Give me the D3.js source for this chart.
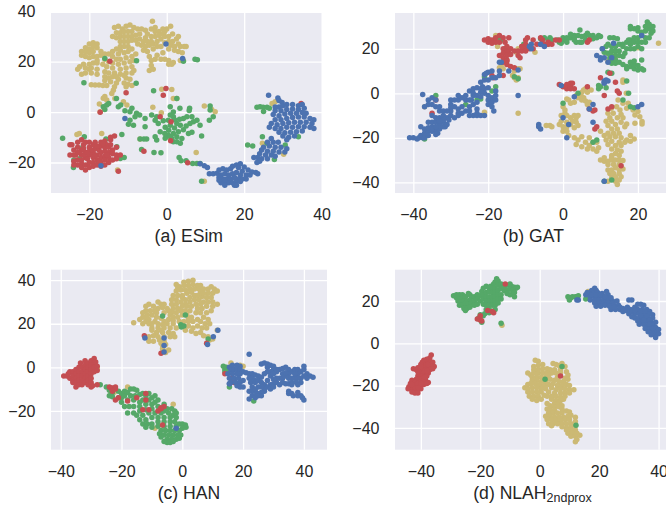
<!DOCTYPE html>
<html><head><meta charset="utf-8">
<script src="https://cdn.jsdelivr.net/npm/d3@7"></script>
<style>html,body{margin:0;padding:0;background:#fff;overflow:hidden}svg{display:block}</style>
</head><body><svg id="c" width="666" height="506"></svg>
<script>
// ---- (a) ESim
const esimYellow=[[-13.5,33.5],[-12.5,34],[-11.5,33],[-10.5,34],[-9.5,34.5],[-8.5,33.5],[-13,31.5],[-12,31.5],[-11,32],[-10,32],[-9,32],[-7.5,33],[-6.5,33],[-14,30],[-13,29.5],[-12,30],[-11,30],[-10,30],[-9,30],[-8,30.5],[-7,31],[-12,28],[-11,28],[-10,28],[-9,28.5],[-8,28.5],[-7,29],[-5.5,32.5],[-5.5,29.5],[-5,31],[-4,33],[-4,30],[-3.7,36],[-3,33.5],[-6,28],[-5,28],[-4,28],[-3,30],[-2,32],[-1,31],[0,33],[-1,33],[1,34],[-6.5,26.5],[-5.5,26],[-4.5,26.5],[-3.5,27],[-2.5,28],[-1.5,29],[-0.5,30],[0.5,30],[1.5,31],[-6,24.5],[-5,24],[-3.5,25],[-2.5,26],[-1.5,26],[-0.5,27.5],[0.5,28],[1.5,28],[2.5,29],[3,27],[1,26.5],[2,26],[3.5,26],[4.5,26],[5,26],[0.5,25],[2,24.5],[3,24],[4,23.5],[-4.5,22],[-4,20.5],[-3,21],[-2.5,22.5],[-1.5,21],[-0.5,21],[0.5,20.5],[-1,23.5],[-4,18.5],[-4.5,16.5],[-3.5,17],[0.5,19],[1.3,19],[1.7,19.7],[3.5,20.5],[-20,27],[-19,27.5],[-18,27],[-21,25.5],[-20,25],[-19,26],[-18,25.5],[-22,24],[-21,24],[-20,23.5],[-19,24],[-17,24],[-22,22.5],[-21,22],[-20,21.5],[-19,22],[-18,22],[-17,22.5],[-16,23],[-15,23],[-14,24],[-13,25],[-12,26],[-11,26],[-10,26],[-14,22],[-12.5,23],[-11,23.5],[-10,24],[-9,25],[-13,21],[-12,21],[-10.5,21.5],[-9,22],[-15,20],[-14,19.5],[-12.5,19],[-11,19.5],[-9.5,20],[-8.5,20.5],[-22.5,18],[-21.5,19],[-20,19],[-19,19.5],[-18,19.5],[-16.5,19],[-23,17],[-21,17.5],[-19.5,17.5],[-18,17],[-15.5,18],[-14,17.5],[-12,17],[-10.5,17.5],[-9,18],[-22,15],[-21,15.5],[-19.5,15.5],[-18,15],[-16,16],[-15,15.5],[-13.5,15.5],[-12,15],[-10.5,15.5],[-9,15.5],[-8.5,16.5],[-16,14],[-15,13.5],[-14,14],[-12.5,13],[-10.5,13.5],[-9.5,13],[-16,12.5],[-14.5,12],[-13,11.5],[-11,11.5],[-10,11],[-19.5,10.8],[-18.5,10.7],[-17.5,10.7],[-16.5,10.5],[-15.5,10.5],[-13.5,10],[-10.5,10],[-9,10.5],[-16,6.2],[-15.5,4.8],[-16.4,5.5],[-17.4,3.2],[-13.8,8.7],[-14.2,7.4],[-13.4,5.4],[-11.2,4.1],[-10.3,2.8],[-17.2,.1],[-6.9,-10.7],[-1.3,9.1],[1.3,9],[1.7,5.4],[2.6,5.4],[-3.6,1.9],[-1.4,-.3],[7.6,-16],[9.7,2.4],[11.6,1],[12.5,.1],[-22.6,-8.5],[-16.8,-8.5],[-12.7,-23],[9.7,-27.4],[27.2,3.4],[28,4.1],[24.7,-12.4],[30.2,-16.7],[4.3,20.5],[-23.2,-8.9],[-8,23],[-7.5,27],[-12,24.5],[-16,21],[-11,14.5],[-13,14],[-18,20.5],[-20,17],[-2,30.5],[-.5,32],[3,30],[-3,32]];
const esimGreen=[[-3.4,8.5],[2.6,5.4],[.9,2.1],[3.4,1.5],[5.9,1.5],[5.8,.6],[11.2,2.4],[11.2,.8],[12,-1.9],[11,-3.2],[7.3,21],[7.9,20.8],[4.3,20.2],[-7.8,20.4],[-7.9,11.4],[-21.4,11.6],[-16,21.3],[-13,5.4],[-16.4,2.1],[-15.5,2.8],[-15,3.4],[-16,1],[-12.5,2.1],[-11.9,2.8],[-10.8,.5],[-9.5,.1],[-9,1.5],[-7.8,-.5],[-7,-1.2],[-8.2,-1.9],[-9.5,-3.2],[-9.9,-4.8],[-8.6,-5.2],[-5.6,-2.5],[-5.6,-5.8],[-3.9,-1.2],[-2.6,-1.9],[-3,-3.2],[-2.2,-4.5],[-.9,-3.4],[-1.7,-7.8],[-2.6,-11.1],[-6.9,-10.7],[-5.9,-10.7],[-5.2,-10.7],[-6.5,-14.8],[-3.3,-16],[-1.5,-16.1],[-.4,-10.4],[-3,-9.8],[9,-9.5],[8.6,-5.2],[5.6,-8.5],[6.5,-8],[7.8,-3.2],[6.5,-1.9],[5.2,-1.9],[6.9,-3.8],[6,-4.5],[4.3,-2.5],[3.5,-5.2],[1.7,-1.9],[1.7,0],[.9,-1.2],[.4,-3.2],[.9,-5.2],[2.6,-4.5],[4.3,-7],[3,-7.8],[1.7,-8.5],[.4,-9.2],[1.3,-10.5],[2.6,-9.8],[3.9,-10.5],[2.6,-11.8],[3.5,-12.4],[1.7,-11.8],[.9,-9.8],[-.4,-6],[2,-3],[3.3,-2.8],[5,-5.5],[2,-6.3],[.5,-7.2],[-.5,-8.5],[3.2,-18],[3.7,-19.3],[5,-19.3],[6.7,-20.4],[7.8,-20.4],[8.6,-20.4],[-26.9,-10.4],[-24,-19],[-24.1,-22],[-22.4,-18.4],[-21.7,-14],[-17.7,-19.4],[-12.9,-13.8],[-11.6,-8.9],[-15.7,-10.7],[-21.3,-9.8],[-12,-18.4],[-11,-18],[20.9,-13.1],[22.2,-13.5],[23.3,1.9],[24.1,2.1],[24.9,1.9],[25,.2],[25.9,1.9],[26.5,1.5],[24.7,-9.8],[25.9,-12.4],[30.6,-13.1],[27.8,-18.8],[34,-9.8],[9,-27.4]];
const esimRed=[[-25,-13],[-24.5,-13],[-25,-17],[-24,-15],[-23,-12],[-23,-14],[-23.5,-17],[-23,-19],[-23,-21],[-24,-21],[-22,-11],[-22,-15],[-22,-17],[-22,-20.5],[-22,-22],[-21.5,-13],[-21,-12],[-21,-16],[-21,-18],[-21,-21],[-21,-23],[-20,-14],[-20,-15.5],[-20,-17],[-20,-20],[-20,-22],[-19,-13],[-19,-16],[-19,-18],[-19,-20],[-18.5,-12],[-18.5,-14.5],[-18,-17],[-18,-19],[-18,-21],[-17.5,-15],[-17,-12],[-17,-13.5],[-17,-16],[-17,-18],[-17,-20],[-16,-11.5],[-16,-14],[-16,-15.5],[-16,-17.5],[-16,-19],[-16,-21],[-15.5,-13],[-15,-16],[-15,-18],[-15,-20],[-14.5,-11],[-14,-15],[-14,-16.5],[-14,-19],[-13.5,-9.5],[-13,-14],[-13,-17],[-13,-18.5],[-12,-17],[-12.5,-23.5],[-14.5,-10],[-14.7,20.2],[-10.5,7.7],[-17.2,-.1],[-.2,9.4],[-.9,6.7],[-1.7,-1.9],[1.1,-3.8],[1,-11.4],[-5.9,-15.5],[5.4,-20.1],[34.7,3.4],[-24,-17],[-22.5,-16],[-21.5,-14.5],[-20.5,-18.5],[-19.5,-15],[-18.5,-17.5],[-17.5,-19.5],[-20,-12],[-15,-14],[-14.5,-13],[-16.5,-12.5],[-22,-19],[-23,-16],[-18,-13.5],[-19,-21.5],[-17,-21.5],[-24,-19.5],[-15.5,-17],[-20.5,-16]];
const esimBlue=[[26.3,6.7],[28.7,5.6],[29,4.6],[29.8,3.8],[28,2],[29,2],[30,2.5],[31,3],[32.5,3],[34,2.5],[35,3],[28,.5],[29.5,.5],[31,1],[32.5,1.2],[34,1],[35.5,1.5],[27.5,-1],[29,-1.5],[30.5,-.8],[32,-.5],[33.5,-.5],[35,-.2],[36,-.5],[28,-3],[29.5,-3],[31,-2.5],[32.5,-2.2],[34,-2],[35.5,-2],[37,-2.5],[38,-3],[27,-4.5],[28.5,-5],[30,-4.5],[31.5,-4.2],[33,-4],[34.5,-4],[36,-4],[37.5,-4.5],[26.5,-6],[28,-6.5],[29.5,-6.5],[31,-6],[32.5,-6],[34,-5.8],[35.5,-5.8],[37,-6],[38,-6.5],[29,-8],[30.5,-8.2],[32,-8],[33.5,-7.8],[35,-7.5],[30,-9.5],[31.5,-10],[33,-9.5],[31,-11],[27,-10.5],[26,-12],[27.5,-12],[28.8,-12],[25,-14],[26.5,-13.5],[28,-14],[29.5,-14],[31,-14.5],[24.5,-15],[26,-15.5],[27.5,-15.5],[29,-15.8],[30.5,-15.8],[24,-16.5],[25.5,-17],[27,-17],[28,-17.5],[23.5,-18],[24.5,-18.5],[26,-18.5],[24,-19.5],[22.5,-18],[23.3,-20],[9.7,-21.3],[8.6,-20.5],[10.5,-22],[11,-24.5],[12,-24.5],[13,-24.3],[13.5,-23],[14.5,-22.5],[15.5,-23],[16.5,-22.5],[17,-21.5],[18,-21],[19,-20.5],[18.5,-22],[20,-21.8],[21,-23],[19.5,-23.5],[22,-23.8],[23,-24],[23.5,-24.5],[14,-25],[15,-24.5],[16,-25],[17,-24.5],[18,-24],[19,-25],[20.5,-25],[21.5,-25],[13.5,-26],[14.5,-26.5],[15.5,-26.5],[16.5,-26.5],[17.5,-26],[18.5,-26.5],[19.5,-26.5],[20.5,-26.5],[14,-28],[15,-28],[16,-28],[17,-28],[18,-27.5],[19,-27.5],[15,-29],[17.5,-29],[18,-29],[13.5,-27],[15,-27],[-10.8,-2.5],[4.1,21.3],[-17,-21.3],[-.2,27]];
// ---- (b) GAT
const gatYellow=[[16.9,0],[14.7,-3],[16,-4.5],[17.4,-4.5],[14.3,-6],[12.9,-6.7],[12,-9],[13.4,-9],[15.2,-7.5],[17,-6.7],[18.7,-7.5],[20,-8.2],[19.2,-9.7],[20.5,-10.5],[21.1,-12.7],[21.1,-13.8],[19.2,-13.5],[17,-13.8],[15.5,-9.5],[16,-11],[14.5,-11],[12.5,-11],[11.5,-12.5],[13,-12.5],[14,-14],[15.5,-13],[12,-14.5],[13,-16],[14.5,-16],[15,-18],[13.5,-18],[12,-18],[16.5,-15],[10,-17],[11,-19],[12.5,-19.5],[14,-19.5],[15.5,-20],[17,-21],[19,-20.5],[18,-19],[11.5,-21],[13,-21.5],[15,-22],[16.5,-22],[18,-21.5],[12,-23],[14,-23.5],[15.5,-23.5],[13,-25],[14.5,-25.5],[15.5,-26],[14,-27],[15,-28],[13,-28],[10,-30],[11,-30.5],[12,-30.5],[13,-30],[14,-30],[15,-30],[16,-30.2],[12,-32],[13.5,-32],[15,-32],[14,-33.5],[13,-34.5],[12,-34.5],[15,-34.5],[16,-34],[12.5,-36],[13.5,-36],[15,-36],[14,-37.5],[15.5,-37.5],[13,-38],[14,-39.5],[15,-39],[14.5,-41],[12,-39.5],[11,-29],[13,-29],[5,-19.5],[7,-20],[6,-22],[4,-21],[3.5,-23],[5,-24],[7,-23.5],[8,-22],[9,-22],[6.5,-25],[8,-25],[9.5,-24.5],[9,-26],[1.5,-19],[3,-20],[0,-6],[.5,-9],[-.5,-10],[1,-10],[2,-11],[3,-10],[2.5,-12.5],[3.5,-13],[1,-13],[-.5,-12.5],[-1,-14],[0,-15],[1,-15],[2,-14],[4,-14.5],[3,-15.5],[0,-17],[1,-17],[3.5,-11],[4,-10],[-4.5,-14.5],[-3.5,-14.5],[-3,-15],[.5,-7.5],[1.5,-3],[2,-4.5],[3,-4],[1,-2.5],[3.5,-1],[4,-2],[5,-1.5],[5,-3],[6,-3.5],[7,-4],[4.5,-.5],[5,.5],[5.5,1.5],[6,2],[6.5,.5],[7.5,1.5],[5.5,-2],[6.5,-5],[-18,26],[-17.5,23],[-17.5,21],[-16,11],[-17,11.5],[-16.5,12],[-13.5,8],[-13,7],[-12.5,6],[-12,11],[-11.5,11],[-13,10],[-12,7],[-11,21],[-12,20],[-12.5,18.5],[-7.5,18.5],[11.5,18],[12,14.5],[13,14],[14,16],[25.5,22.5],[20,20.5],[16,5],[16,6],[-12,-9],[-21,-8.5],[-37,-6]];
const gatGreen=[[-1,23],[0,24],[0,25],[1,25],[1,24],[1,23],[2,25],[3,26],[2,26.5],[3,25],[3.5,23],[3,24],[4,26],[5,25.5],[4.5,23],[5,23],[6,24],[6,26],[6.5,27],[7,26],[8,26],[8,24.5],[9,25],[9.5,26],[10,25.5],[-1.5,24],[-3,24],[-4,22],[-4,24],[-3.5,25],[-6,24.5],[-5,25],[4.5,28.5],[-.5,22.5],[12.5,25],[13.5,25],[14.5,24.5],[12,22],[13,21],[11.5,21],[10.5,20],[11,18.5],[12,18],[13,19],[14,21],[15,22],[16,22],[17,23],[18,24],[19,25],[20,25],[21,26],[22,25],[23,25],[23.5,27],[24,28],[23,29],[22,30],[22.5,32],[23,31],[24,30],[22,28],[21,27.5],[20,29.5],[19,29],[18,29],[18,30],[20,28],[17.5,24],[16,21],[17,20],[18,22],[19,23],[20,23],[21,23],[22,23],[20,21],[21,20],[19,20],[18,20],[16.5,18],[15,19],[14,19],[13,17],[14,17],[15,17],[16,16.5],[12.5,16],[13,15],[14,15],[13,13.5],[14,13.5],[15,14],[16,13],[17,12],[18,12],[19,11],[17,11],[19,13],[20,12.5],[18,14],[19,14.5],[20,10.5],[21,11],[21.5,10.5],[21,15],[12,9.5],[13,9],[9.5,2],[10,3],[11.5,2.5],[17,5.5],[-21,7.5],[-18,3],[-19,1],[-22,-2.5],[-23,-3],[-34,-1],[-15.5,20],[-16.5,24],[-17,25],[-10.5,22],[-13,7.5],[-12,6.5],[8,-22],[9,-21],[0,-4.5],[4,0],[16,-3],[18,-6],[19,-6.5],[11,-39.5],[13,-39],[-37,-20.5],[17.5,0],[9.5,3.5],[-26,-5]];
const gatRed=[[-21,24],[-20,24.5],[-20,23],[-19,24],[-19,22.5],[-18,23],[-18,25],[-17,23],[-17,26],[-16,25],[-14.5,25],[-15.5,23],[-16,20],[-15,19],[-15,21],[-14.5,19],[-14,20],[-16,18],[-15,17],[-14,17.5],[-16,16],[-15,15],[-17,17],[-16,14],[-15,14.5],[-15,13],[-14,12],[-13,11.5],[-12,17],[-11.5,16],[-13,19],[-12,19],[-11,19],[-10,20],[-11,21],[-10,22],[-10,24],[-9.5,25],[-10,19],[-9,20],[-8,20],[-7,22],[-6,22],[-5.5,24],[-5,22],[-4,22],[-4,23],[-3,22],[-1,24],[-8,24],[-6,25],[-19,8],[-18.5,7],[6.5,23],[7,24],[-35,-9],[-34,-3],[-2,24],[-1,4],[0,3],[1,2],[1,4],[2,4.5],[2,3],[2.5,4.5],[3,2],[2,2],[6.5,3],[11,-1],[10,7],[12.5,9],[14,5],[14.5,1],[15,0],[7,-7],[8.5,-7.5],[8,-8],[12,-7],[15.5,-32.5],[9,-15],[8.5,-16],[-16,8],[13,-6],[-11,21]];
const gatBlue=[[-41,-20],[-40,-20],[-39,-20.5],[-38.5,-20],[-38,-19],[-37.5,-20],[-37,-18],[-37,-20],[-36.5,-18.5],[-38,-15],[-37,-16],[-36,-17],[-35,-15],[-36,-13],[-35,-13],[-34,-13],[-35,-17],[-34,-17],[-33.5,-18],[-33,-16],[-33,-14],[-32,-15],[-32,-13],[-31.5,-15],[-35,-10],[-34,-11],[-33,-11],[-32,-10],[-31,-11],[-30.5,-12],[-30,-10],[-30,-8],[-31,-8],[-32,-8],[-33,-8],[-34,-6],[-35,-5],[-36,-5],[-36,-3],[-35,-2],[-34,-3],[-37,-6],[-37.5,-.5],[-33,-6],[-30,-5],[-30,-3],[-29,-3],[-28,-1],[-28,-3],[-29,-6],[-28,-7],[-27,-6],[-28,-9],[-26,-8],[-27,-9],[-26,-3],[-25,-3],[-26,-1],[-24.5,-3],[-24,-5],[-25,-6],[-25,-8],[-25,-10],[-24,-10],[-23,-9],[-23,-10],[-22,-10],[-21,-10],[-23,-7],[-23,-4],[-24,-1],[-25,1],[-24,2],[-23,2.5],[-22,2],[-21,2],[-20,2.5],[-21,0],[-22,.5],[-23,-1],[-20,-1],[-19,-2],[-20,-3],[-20,-5],[-19,-6],[-18.5,-8],[-19,-4],[-18,-3],[-18,-1],[-18,1],[-22,5],[-21,6],[-20,6],[-19,7],[-18,7],[-17,8],[-21.5,3],[-20,9.5],[-19,10],[-20.5,9],[-21,8.5],[-14.5,10],[-12,10.5],[-17,10],[-17,14],[-16.5,14],[-34,-18.5],[-36,-19],[-35,-16],[-32,-12],[-29,-11],[-28,-10],[-8.5,20],[-8.5,22],[-9,21],[-5,21],[-6,22],[9,17],[10,16],[10,15],[11,16],[10.5,20],[12,14],[13,16],[11,5],[11.5,6],[11,5.5],[12,5.5],[11,4.5],[-0.5,3.5],[1,-20],[-6.5,-14],[-6.5,-15],[-6,-16],[0,-11],[1.5,-14],[3,-1.5],[8,-13],[8,-5],[7,-7],[21,-5],[20,-6],[11,-39.5],[13.5,22.5],[21,26],[-12,-1],[-33,-12.5],[-31,-14],[-34,-15],[-36,-15.5],[-30,-6.5],[-27,-2],[-24,0],[-22,-1.5]];
// ---- (c) HAN
const hanYellow=[[.5,39],[2,39.5],[3.5,40],[.5,37.5],[2,37.5],[3.5,38],[5,37.5],[6,37.5],[-1,37],[-2,35],[-.5,35.5],[1,35.5],[2.5,36],[4,36],[5.5,36],[7,36],[8.5,36],[9.5,37],[10.5,36],[11,35],[-3,33],[-1.5,33],[0,33],[1.5,34],[6,34.5],[8.5,34],[10,34],[11.5,35],[-3.5,31],[-2,31],[0,32],[5,33],[6.5,32.5],[8,32],[9.5,32],[-3.5,29],[-2,29],[-.5,30],[1,29],[2.5,30],[4,31],[5.5,31],[7,30],[8.5,30],[10,30],[-3,27],[-1.5,27],[0,28],[1.5,28],[3,28],[4.5,29],[6,29],[-3.5,25],[-2,25],[-.5,26],[1,26],[2.5,26],[6.5,27],[8,28],[10,28],[11.5,29],[-6,29],[-7,29],[-8,30],[-6.5,27.5],[-8,27],[-9.5,28],[-11,29],[-12,28],[-10.5,26],[-12,26],[-13,25],[-8.5,25],[-6,25],[-4.5,26],[-4,24],[-7,22.5],[-8.5,23],[-10,24],[-11.5,24],[-13,23],[-14,22],[-11,22],[-9,21],[-6,21],[-4.5,22],[-3,23],[-1.5,23],[0,24],[1.5,24],[3,23],[4.5,25],[6,25],[8,25],[9.5,26],[5,27],[-16,20.5],[-13,20],[-12,21],[-11,20],[-8,20],[-6.5,19.5],[-5,20],[-3,20],[-1,21],[.5,21],[2,21],[3.5,21],[5,22],[7,23],[8.5,22],[6,21],[7.5,20],[9,20],[-10,18],[-8,18],[-6,18],[-4,18],[-2,18],[0,19],[2,19],[3.5,18],[5,19],[6.5,18],[8,18],[-10,17],[-8.5,16],[-6.5,16],[-4.5,16],[-3,15.5],[1,17],[3,16.5],[4.5,15.5],[6,16],[-11,14],[-9.5,14.5],[-8,14],[-6,14],[-4,14],[-2.5,14],[7,14.5],[8.5,14],[9,12.5],[10,13],[-11,12],[-9.5,12],[-7.5,12.5],[-6,12],[-7,11],[-6.5,10],[-5.5,10.5],[-6.5,8.5],[-4.5,8],[-6,7.5],[-5.5,6.8],[11.5,17],[-28,-.5],[-22,-11],[-22.5,-11.5],[-18,-9],[-3,-17],[-9,-28],[16,2],[19,1],[20,.5],[-23.5,-12],[-6,10.5],[-2,38],[-1.5,36.5],[3,34.5],[4,33],[2.5,32],[7,34],[1,31],[-9,26],[-5,27],[-3,21.5],[2,22.5],[-7,17],[-10,20],[-12,23]];
const hanGreen=[[-27,-8],[-25,-9],[-24,-10.5],[-23,-11.5],[-24,-13],[-23,-13.5],[-21,-11],[-20,-12],[-19,-11],[-18,-11.5],[-17,-10],[-16,-10],[-15,-10.5],[-21,-14],[-20,-14],[-19,-13],[-17,-13],[-15.5,-13],[-14,-12.5],[-13,-12],[-12,-13],[-11,-12],[-20,-16],[-18,-15],[-16,-15],[-14,-16],[-13,-15],[-11,-15],[-10,-14],[-9,-13],[-19,-18],[-17.5,-18],[-16,-18],[-14,-18],[-12,-17],[-10,-17],[-9,-16],[-8,-15],[-6,-17],[-5,-19],[-18,-21],[-16,-21],[-14,-20],[-12,-19.5],[-10,-19],[-8,-18],[-6,-20],[-3.5,-19],[-2.5,-20],[-15,-22],[-13,-22],[-11,-21],[-9,-21],[-7,-21],[-4.5,-21],[-3,-22],[-2,-21],[-14,-24],[-12,-24],[-10,-23],[-8,-23],[-6,-23],[-4,-23],[-2,-23],[-13,-26],[-11.5,-26],[-10,-26],[-8,-25],[-6,-25],[-4,-25],[-2.5,-25],[-12,-27.5],[-10,-27.5],[-8,-27],[-6,-27],[-4,-27],[-2,-27],[-1,-26],[0,-26],[1,-26.5],[1.2,-27.5],[0,-28],[-7,-29],[-5.5,-29],[-4,-29],[-2.5,-29],[-1,-29],[-7.5,-30.5],[-6,-31],[-4.5,-31],[-3,-31],[-1.5,-31],[-.5,-31],[-7,-32],[-5,-33],[-3.5,-33],[-2,-33],[-1,-32.5],[-5,-34.5],[-4,-34.5],[-3,-34],[-6,-34],[1,24],[-6.5,23.5],[-.5,19.5],[-.3,18.5],[.5,19],[8.5,13],[13.5,.5],[14,-1],[14,-2],[14.5,0],[15,-1.5],[15.5,-9],[23.5,-15.5]];
const hanRed=[[-39,-4],[-38,-4],[-37.5,-3],[-37,-2],[-37,-5],[-36,-2],[-36,-4],[-36,-6],[-36,-7],[-35,-1],[-35,-3],[-35,-5],[-35,-7],[-35,-9],[-34,0],[-34,-2],[-34,-4],[-34,-6],[-34,-8],[-33.5,2],[-33,0],[-33,-2],[-33,-4],[-33,-6],[-33,-8],[-32,3],[-32,1],[-32,-1],[-32,-3],[-32,-5],[-32,-7],[-31,2],[-31,0],[-31,-2],[-31,-4],[-31,-6],[-31,-8],[-30,3],[-30,1],[-30,-1],[-30,-3],[-30,-5],[-30,-7],[-29,4],[-29,2],[-29,0],[-29,-2],[-29.5,-8.5],[-28.5,2.5],[-28,.5],[-28,-1.5],[-30,-9],[-28,-8],[-24,-9],[-23.5,-9.5],[-23,-9.5],[-22,-9],[-22,-10],[-23,-11],[-21,-14],[-22,-15],[-18,-15.5],[-15,-14],[-12,-12],[-12,-15],[-11,-19.5],[-13,-19.5],[-8,-20],[-7,-19],[-6,-18],[-7,-18.5],[-6.5,-26.5],[-12.5,14.5],[-7,6.5],[8,11],[17,-6],[16,-5],[14,-3],[18,-7.5],[17,-7]];
const hanBlue=[[-12.3,13.5],[-6,13.5],[-6,10],[-6,7],[11.7,17],[10.2,14],[8.3,10.5],[22,6],[15.5,0],[16.5,1],[18,1],[19,.5],[16,-1],[17,-1],[18,-1],[19,-1],[20,-2],[15,-3],[16.5,-3],[18,-3],[19,-3],[15.5,-5],[17,-5],[18.5,-5],[16,-7],[17.5,-7],[19,-7],[20,-6],[18,-8.5],[19,-9],[20,-9],[15.5,-7.5],[21,-2.5],[22,-3],[23,-3],[24,-3.5],[25,-4],[22,-5],[23,-5],[24,-6],[22.5,-7],[24,-7],[25,-6],[26,-7],[27,-8],[29,-8],[30,-7.5],[31,-7],[32,-8],[33,-7],[34,-7.5],[35,-7.5],[36,-7],[28,-9],[29,-10],[27,-10],[26,-9],[30,-9],[25,-9],[27,-11],[26,-11.5],[24,-11],[23,-11],[22,-11],[25,-12],[23,-13],[24,-13],[25,-13],[26,-13],[24,-14],[22,-14.5],[26,1.5],[27,2],[28,1.5],[28,0],[29,1],[30,.5],[30,-1],[31,-1],[31,-2],[32,-1],[33,-.5],[34,0],[29,-2],[35,-1],[35,-3],[36,-2],[37,-1],[38,-1],[38,-3],[39,-2],[40,-1],[40,.5],[41,-3],[42,-4],[43,-4.5],[41,-5],[40,-4],[39,-5],[38,-5],[37,-5],[36,-5],[35,-5],[34,-4],[33,-5],[32,-5],[31,-5],[39,-7],[37.5,-7],[35,-11],[35,-12],[36,-12],[36.5,-13],[38,-13],[39,-13],[39.5,-14],[40,-15],[38,-11.5],[-2,-28],[15.5,-7.5],[28,-2],[27,-3],[29,-4],[30,-3],[33,-3],[34,-2.5],[37,-3],[36,-8],[38,-8],[23,-9],[24,-10],[26,-4.5],[28,-6],[30,-5.5]];
// ---- (d) NLAH
const nlahYellow=[[-1.5,-8],[-.5,-8.5],[-.5,-10.5],[-2,-11],[-2,-12.5],[-.5,-12.5],[1,-10],[1,-12],[2.5,-12],[4.5,-9.5],[5.5,-10],[6.5,-10.5],[3.5,-12.5],[5,-12.5],[7,-12.5],[8.5,-11],[-2,-14],[-.5,-14],[1,-14],[2.5,-14],[4,-14],[5.5,-14],[7,-14],[9,-13.5],[-4,-14],[-3,-15],[-2.5,-16],[-1,-16],[.5,-16],[2,-16],[9.5,-15],[8.5,-16.5],[-2.5,-17.5],[-1,-17.5],[.5,-18],[2,-18],[3.5,-17],[9.5,-17],[8,-18],[6.5,-18],[5,-17.5],[-4,-19.5],[-3,-19],[-1.5,-19],[0,-19.5],[1.5,-20],[3,-19.5],[4.5,-19],[6,-20],[7.5,-20],[9,-19.5],[10,-20],[-5,-21],[-4,-21.5],[-2.5,-21],[-1,-21],[.5,-21.5],[2,-21.5],[4,-21],[5.5,-22],[7,-21.5],[8.5,-21.5],[10,-22],[11.5,-22],[-4,-23],[-2.5,-23],[-1,-23],[.5,-23],[3,-23],[5,-23.5],[7,-23.5],[8.5,-23.5],[10,-23.5],[-3.5,-25],[-2,-25],[-.5,-25],[4,-25],[5.5,-25],[7,-25.5],[8.5,-25],[-2.5,-26.5],[-1,-27],[.5,-26.5],[4,-26.5],[5.5,-27],[7,-27],[8,-26.5],[5,-28.5],[6.5,-28.5],[5,-30],[6.5,-30],[5,-31.5],[2.5,-31],[3.5,-31.5],[3,-33],[4.5,-33],[6,-33],[7.5,-33],[9,-32],[10,-32.5],[2,-34.5],[3.5,-34.5],[5,-35],[6.5,-35],[8,-35],[9.5,-34.5],[10.5,-34],[2.5,-36],[4,-36],[5.5,-36.5],[7,-36.5],[8.5,-36],[10,-36],[12,-35],[3,-38],[4.5,-38],[6,-38],[7.5,-38],[9,-38],[10.5,-38],[12,-37],[4,-39],[7.5,-39.5],[9,-40],[10.5,-39.5],[12,-39],[9,-41],[10.5,-41],[12,-41],[9.5,-42.5],[11,-42.5],[12.5,-42.5],[10.5,-44],[12,-44],[13.5,-43.5],[12.5,-45.5],[12,-46.5],[-12.7,8.5],[16.3,24.5],[7.5,-9.5],[3,-15],[6,-16],[2.5,-25],[1.5,-24.5],[3.5,-29.5],[2.5,-28.5],[7.5,-29.5],[7.5,-31]];
const nlahGreen=[[-29,22.5],[-28,23],[-27,23],[-26,23],[-28,21.5],[-27,21],[-26,21.5],[-25,22],[-24,23.5],[-23.5,23],[-23,22],[-27.5,20],[-26.5,19.5],[-25.5,20],[-24.5,20],[-23.5,20.5],[-22,22],[-21,23],[-20,22.5],[-27,18],[-26,18],[-25,18.5],[-24,18.5],[-23,19],[-22,20],[-21,21],[-20,20],[-25.5,16.5],[-24.5,16.5],[-23.5,17],[-22,18],[-21,18.5],[-25,15.5],[-19.5,24.5],[-19,26],[-18,27],[-17,26],[-19,23],[-18,24],[-17,24.5],[-19,21],[-18,22],[-17,22],[-18,20],[-17,20],[-19,18.5],[-18,18],[-17,18],[-18,16],[-17,16],[-16.5,27],[-15.5,28],[-15,29],[-14.5,30.5],[-14,29.5],[-16,26],[-15,26],[-14,27.5],[-13,28],[-16,24],[-15,24],[-14,25],[-13,26],[-12,25],[-16,22],[-15,22],[-14,23],[-13,23],[-16,20],[-15,20],[-14,21],[-13,21],[-16,18],[-15,18],[-14,19],[-17,14.5],[-16,15],[-15,16],[-18.5,14],[-19,13],[-20,13.5],[-20.5,12],[-20,11],[-19.5,10],[-13,9.5],[-11,27.5],[-10,28],[-9.5,27],[-10,25.5],[-8.5,26.5],[-8,26],[-7.5,26.5],[-9,25],[-11,25],[-12,26.5],[-11,23.5],[-10,23],[-9,23.5],[-8.5,24],[-8.5,22],[9.5,22],[10,21],[10.5,21.5],[11,22],[12,22],[12.5,22],[13,22.5],[10,20.5],[15.5,21],[16,22],[7.5,-11],[12.2,-38.7],[1.8,-17]];
const nlahRed=[[-36.5,-5.5],[-37,-7],[-38,-7.5],[-38,-9],[-39,-8],[-39.5,-9],[-37,-9],[-36,-9],[-35.5,-11],[-36.5,-11],[-37.5,-11],[-38.5,-10.5],[-39.5,-11],[-40,-10],[-41,-11.5],[-42.5,-12],[-41.5,-12.5],[-40,-12.5],[-38.5,-12.5],[-37,-12.5],[-36,-12],[-37.5,-14],[-39,-14],[-40.5,-14],[-39.5,-15.5],[-38,-15.5],[-41,-15.5],[-38.5,-17],[-37.5,-18.5],[-39.5,-17],[-40.5,-17],[-41.5,-17],[-43,-17.5],[-42,-18.5],[-43.5,-19],[-40.5,-18.5],[-39,-18.5],[-44,-20.5],[-43,-20.5],[-42,-20],[-41,-20],[-40,-20],[-39,-19.5],[-44.3,-21.5],[-43,-22],[-42,-22],[-41,-22],[-40,-21.5],[-43,-23],[-42,-23.5],[-41,-23.5],[-11.6,28],[-20,13],[-21,11.5],[-20,11],[-19.5,10.5],[-17.5,15.5],[-15.5,14.5],[-16,15],[7,-15.5],[-38,-13],[-39,-16],[-41,-19],[-42,-21],[-41,-21],[-40,-19],[-38.5,-16],[-37.5,-10],[-40,-11],[-41,-13.5],[-43,-19.5],[-38,-19]];
const nlahBlue=[[18.5,26],[17.5,25],[19,25],[16.5,23.5],[18,23.5],[19.5,24],[21,23.5],[22.5,24.5],[15.5,23],[17,22],[18.5,22],[20,22],[21.5,22],[23,23],[13,20.5],[12.5,20.5],[17,20.5],[18.5,20.5],[20,20.5],[21.5,20.5],[23,21],[24.5,20],[18.5,19],[20,19],[21.5,19],[23,19],[24.5,19],[26,20],[19,17.5],[20.5,17.5],[22,18],[23.5,17.5],[25,18],[26.5,18],[24,16],[25.5,16],[27,16],[30,20.5],[31,20.5],[29,15.5],[28,15],[30.5,16],[32,17],[33,18.5],[34,18.5],[35,18],[33,16],[34.5,16],[36,16],[37,15],[31,15],[30,14],[32,14],[33.5,14],[35,14],[36.5,14],[38,13.5],[31,12.5],[32,12],[33.5,12],[35,12],[36.5,12],[38,12],[33,10.5],[34.5,10.5],[36,10.5],[37.5,10],[39,10],[33.5,9],[35,9],[36.5,8.5],[38,8.5],[39,7.5],[35.5,7],[37,7],[38.5,6],[40,6.5],[36.5,5.5],[38,5],[39.5,5],[37.5,4],[39,3.8],[40,4.5],[39,2.8],[16,24],[17.5,23],[19,23],[20.5,23],[22,22],[24,21.5],[25,17],[27,17],[28,16.5],[29.5,17],[32,15.5],[34,15],[35.5,15],[34,13],[36,13],[35,11],[37,11],[38,7],[37,9]];
// ---- axes
const ticksA={x:[-20,0,20,40],y:[-20,0,20,40]};
const ticksB={x:[-40,-20,0,20],y:[-40,-20,0,20]};
const ticksC={x:[-40,-20,0,20,40],y:[-20,0,20,40]};
const ticksD={x:[-40,-20,0,20,40],y:[-40,-20,0,20]};
const domainsA={x:[-29.9,40.1],y:[-32.1,39.3]};
const domainsB={x:[-44.9,27.5],y:[-44.8,36.1]};
const domainsC={x:[-43.2,47.6],y:[-37.8,44.8]};
const domainsD={x:[-48.7,42.5],y:[-50.3,34.8]};

const colors={blue:"#4C72B0",green:"#55A868",red:"#C44E52",yellow:"#CCB974"};
const svg=d3.select("#c");
const FONT="'Liberation Sans',Arial,sans-serif";
function panel(box,dom,ticks,series,caption,sub){
  const x=d3.scaleLinear().domain(dom.x).range([box.l,box.r]);
  const y=d3.scaleLinear().domain(dom.y).range([box.b,box.t]);
  const g=svg.append("g");
  g.append("rect").attr("x",box.l).attr("y",box.t).attr("width",box.r-box.l).attr("height",box.b-box.t).attr("fill","#EAEAF2");
  const ax=g.append("g").attr("transform",`translate(0,${box.b})`).call(d3.axisBottom(x).tickValues(ticks.x).tickSize(-(box.b-box.t)).tickPadding(15.5).tickFormat(d3.format("d")));
  const ay=g.append("g").attr("transform",`translate(${box.l},0)`).call(d3.axisLeft(y).tickValues(ticks.y).tickSize(-(box.r-box.l)).tickPadding(15.5).tickFormat(d3.format("d")));
  [ax,ay].forEach(a=>{a.select(".domain").remove();
    a.selectAll("line").attr("stroke","#fff").attr("stroke-width",1.3);
    a.selectAll("text").attr("fill","#262626").attr("font-family",FONT).attr("font-size",16);});
  const pts=g.append("g").style("filter","blur(0.35px)");
  series.forEach(([data,c])=>{
    pts.selectAll(null).data(data).join("circle")
      .attr("cx",d=>x(d[0])).attr("cy",d=>y(d[1])).attr("r",2.75).attr("fill",colors[c]);
  });
  const t=g.append("text").attr("x",(box.l+box.r)/2+(box.cx||0)).attr("y",box.b+49).attr("text-anchor","middle")
    .attr("fill","#262626").attr("font-family",FONT).attr("font-size",17.6).text(caption);
  if(sub) t.append("tspan").attr("font-size",12.5).attr("dy",3.5).text(sub);
}
panel({l:51,r:322,t:13,b:193,cx:2.3},domainsA,ticksA,[[esimYellow,"yellow"],[esimGreen,"green"],[esimRed,"red"],[esimBlue,"blue"]],"(a) ESim");
panel({l:395,r:666,t:13,b:193,cx:2.8},domainsB,ticksB,[[gatYellow,"yellow"],[gatGreen,"green"],[gatRed,"red"],[gatBlue,"blue"]],"(b) GAT");
panel({l:51,r:327,t:269.7,b:449.7},domainsC,ticksC,[[hanYellow,"yellow"],[hanGreen,"green"],[hanRed,"red"],[hanBlue,"blue"]],"(c) HAN");
panel({l:395,r:666,t:269.7,b:449.7,cx:2},domainsD,ticksD,[[nlahYellow,"yellow"],[nlahGreen,"green"],[nlahRed,"red"],[nlahBlue,"blue"]],"(d) NLAH","2ndprox");
</script></body></html>
